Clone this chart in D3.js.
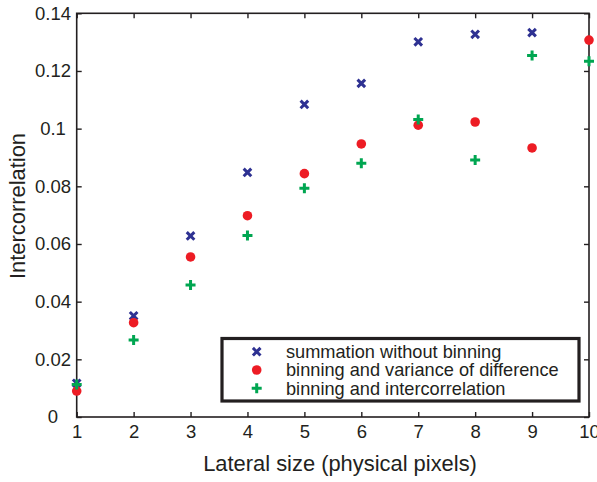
<!DOCTYPE html>
<html><head><meta charset="utf-8">
<script src="https://cdn.jsdelivr.net/npm/d3@7"></script>
<style>body{margin:0;background:#fff}svg{display:block}text{font-family:"Liberation Sans",Arial,Helvetica,sans-serif;fill:#231f20}</style>
</head><body>
<script>
const sizes = [1,2,3,4,5,6,7,8,9,10];
// the summation marker at size 10 is not visible in the reference (hidden under the red dot)
const summation = [0.0117,0.0351,0.0628,0.0848,0.1084,0.1157,0.1301,0.1327,0.1333,null];
const varianceDiff = [0.0090,0.0327,0.0555,0.0698,0.0844,0.0947,0.1012,0.1023,0.0933,0.1307];
const intercorr = [0.0113,0.0267,0.0458,0.0629,0.0793,0.0880,0.1032,0.0891,0.1254,0.1234];
const xTicks = [1,2,3,4,5,6,7,8,9,10];
const yTicks = [0,0.02,0.04,0.06,0.08,0.1,0.12,0.14];
const yTickLabels = ["0","0.02","0.04","0.06","0.08","0.1","0.12","0.14"];
const legendLabels = ["summation without binning","binning and variance of difference","binning and intercorrelation"];
const colors = ["#2e3192","#ed1c24","#00a651"];

const W=597,H=482;
const svg=d3.select("body").append("svg").attr("width",W).attr("height",H);
const L=76.7,R=589,T=13.3,B=417;
const x=d3.scaleLinear().domain([1,10]).range([L,R]);
const y=d3.scaleLinear().domain([0,0.14]).range([B,T]);
const axc="#231f20";

// frame
svg.append("rect").attr("x",L).attr("y",T).attr("width",R-L).attr("height",B-T)
  .attr("fill","none").attr("stroke",axc).attr("stroke-width",1.6);

const tl=5;
const gx=svg.append("g").attr("transform",`translate(0,${B})`)
  .call(d3.axisBottom(x).tickValues(xTicks).tickSizeInner(-tl).tickSizeOuter(0).tickPadding(8));
const gxt=svg.append("g").attr("transform",`translate(0,${T})`)
  .call(d3.axisTop(x).tickValues(xTicks).tickSizeInner(-tl).tickSizeOuter(0).tickFormat(""));
const gy=svg.append("g").attr("transform",`translate(${L},0)`)
  .call(d3.axisLeft(y).tickValues(yTicks).tickSizeInner(-tl).tickSizeOuter(0).tickPadding(6)
  .tickFormat((d,i)=>yTickLabels[i]));
const gyr=svg.append("g").attr("transform",`translate(${R},0)`)
  .call(d3.axisRight(y).tickValues(yTicks).tickSizeInner(-tl).tickSizeOuter(0).tickFormat(""));
[gx,gxt,gy,gyr].forEach(g=>{
  g.select(".domain").remove();
  g.selectAll("line").attr("stroke",axc).attr("stroke-width",1.4);
  g.selectAll("text").attr("font-size",18.5).attr("fill",axc).attr("font-family",null);
});
gx.selectAll("text").attr("dy","0.71em");
// MATLAB-style centred y tick labels
gy.selectAll("text").attr("text-anchor","middle").attr("x",53-L);

// axis titles
svg.append("text").attr("x",340).attr("y",471).attr("text-anchor","middle")
  .attr("font-size",21.9).text("Lateral size (physical pixels)");
svg.append("text").attr("transform",`translate(25,206) rotate(-90)`).attr("text-anchor","middle")
  .attr("font-size",21.9).text("Intercorrelation");

// markers
function cross(g,cx,cy,c){
  const s=3.8;
  g.append("path").attr("d",`M${cx-s},${cy-s}L${cx+s},${cy+s}M${cx-s},${cy+s}L${cx+s},${cy-s}`)
   .attr("stroke",c).attr("stroke-width",3);
}
function plus(g,cx,cy,c){
  const s=5;
  g.append("path").attr("d",`M${cx-s},${cy}L${cx+s},${cy}M${cx},${cy-s}L${cx},${cy+s}`)
   .attr("stroke",c).attr("stroke-width",3);
}
function dot(g,cx,cy,c){
  g.append("circle").attr("cx",cx).attr("cy",cy).attr("r",4.8).attr("fill",c);
}
const mk=svg.append("g");
sizes.forEach((s,i)=>{ if(summation[i]!=null) cross(mk,x(s),y(summation[i]),colors[0]); });
sizes.forEach((s,i)=>dot(mk,x(s),y(varianceDiff[i]),colors[1]));
sizes.forEach((s,i)=>plus(mk,x(s),y(intercorr[i]),colors[2]));

// legend
const lg=svg.append("g");
lg.append("rect").attr("x",222).attr("y",338.5).attr("width",357).attr("height",62.5)
  .attr("fill","#fff").attr("stroke","#231f20").attr("stroke-width",3.2);
const rows=[351.7,370,388.3];
cross(lg,256.7,rows[0],colors[0]);
dot(lg,256.7,rows[1],colors[1]);
plus(lg,256.7,rows[2],colors[2]);
legendLabels.forEach((t,i)=>lg.append("text").attr("x",286).attr("y",rows[i]).attr("dy","0.35em")
  .attr("font-size",18.2).text(t));
</script>
</body></html>
